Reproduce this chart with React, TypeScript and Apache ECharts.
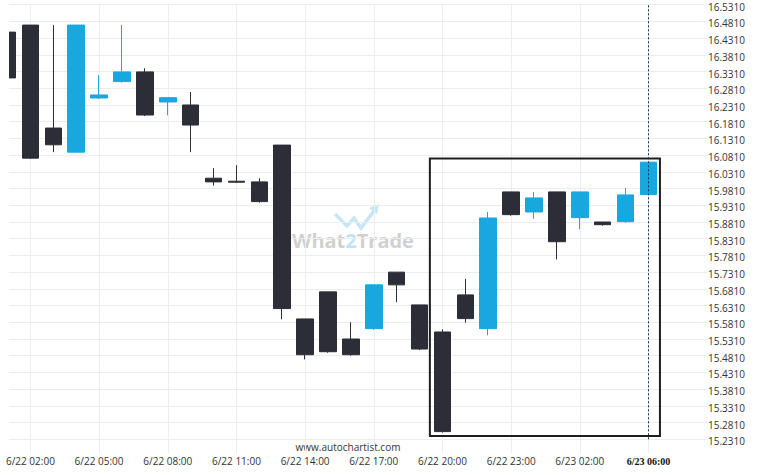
import React, { useEffect, useRef } from 'react';
import * as echarts from 'echarts';

// Hourly candles, 6/22 01:00 .. 6/23 05:00
const times = [
  '6/22 01:00', '6/22 02:00', '6/22 03:00', '6/22 04:00', '6/22 05:00', '6/22 06:00',
  '6/22 07:00', '6/22 08:00', '6/22 09:00', '6/22 10:00', '6/22 11:00', '6/22 12:00',
  '6/22 13:00', '6/22 14:00', '6/22 15:00', '6/22 16:00', '6/22 17:00', '6/22 18:00',
  '6/22 19:00', '6/22 20:00', '6/22 21:00', '6/22 22:00', '6/22 23:00', '6/23 00:00',
  '6/23 01:00', '6/23 02:00', '6/23 03:00', '6/23 04:00', '6/23 05:00',
];
const opens = [
  16.449, 16.470, 16.162, 16.090, 16.252, 16.301, 16.330, 16.240, 16.231, 16.012,
  16.003, 16.001, 16.111, 15.591, 15.672, 15.531, 15.562, 15.731, 15.633, 15.552,
  15.663, 15.562, 15.971, 15.911, 15.971, 15.894, 15.881, 15.882, 15.963,
];
const closes = [
  16.312, 16.072, 16.112, 16.470, 16.261, 16.330, 16.201, 16.253, 16.171, 16.001,
  16.000, 15.942, 15.622, 15.484, 15.493, 15.484, 15.693, 15.693, 15.501, 15.254,
  15.592, 15.893, 15.903, 15.953, 15.822, 15.971, 15.873, 15.962, 16.060,
];
const lows = [
  16.300, 16.070, 16.090, 16.089, 16.249, 16.298, 16.198, 16.200, 16.090, 15.990,
  15.998, 15.939, 15.590, 15.470, 15.490, 15.481, 15.559, 15.641, 15.498, 15.251,
  15.580, 15.542, 15.900, 15.891, 15.769, 15.859, 15.870, 15.879, 15.963,
];
const highs = [
  16.455, 16.470, 16.470, 16.470, 16.320, 16.470, 16.341, 16.253, 16.270, 16.042,
  16.051, 16.012, 16.111, 15.591, 15.672, 15.581, 15.693, 15.731, 15.633, 15.560,
  15.711, 15.911, 15.971, 15.971, 15.971, 15.971, 15.881, 15.983, 16.060,
];
const labelIndices = [1, 4, 7, 10, 13, 16, 19, 22, 25, 28];
const currentTimeLabel = '6/23 06:00';
const patternStart = 19;
const patternEnd = 28;
const yMin = 15.231;
const yMax = 16.531;
const yStep = 0.05;

const BLUE = '#19a7e0';
const DARK = '#2c2d36';
const GRID = '#ededed';

export default function App() {
  const ref = useRef<HTMLDivElement>(null);

  useEffect(() => {
    if (!ref.current) return;
    const chart = echarts.init(ref.current, undefined, { renderer: 'svg' });
    const lastIndex = times.length - 1;
    const data = times.map((_, i) => [i, opens[i], closes[i], lows[i], highs[i]]);
    const pLows = lows.slice(patternStart, patternEnd + 1);
    const pHighs = highs.slice(patternStart, patternEnd + 1);
    const boxTop = Math.max(...pHighs) + 0.011;
    const boxBottom = Math.min(...pLows) - 0.01;

    const option: any = {
      animation: false,
      grid: { left: 9, right: 58, top: 4.7, bottom: 35.7 },
      xAxis: {
        type: 'value',
        min: 0.0655,
        max: 30.337,
        axisLine: { show: false },
        splitLine: { show: true, lineStyle: { color: GRID, width: 1 } },
        axisTick: {
          show: true,
          length: 14,
          customValues: labelIndices,
          lineStyle: { color: GRID, width: 1 },
        },
        axisLabel: {
          customValues: labelIndices,
          margin: 17,
          fontSize: 10,
          fontFamily: 'Open Sans',
          color: '#333',
          formatter: (v: number) => {
            const i = Math.round(v);
            if (i === lastIndex) return '{b|' + currentTimeLabel + '}';
            return times[i];
          },
          rich: {
            b: {
              fontSize: 10,
              fontWeight: 'bold',
              fontFamily: 'Liberation Sans Narrow',
              color: '#111',
            },
          },
        },
      },
      yAxis: {
        type: 'value',
        position: 'right',
        min: yMin,
        max: yMax,
        interval: yStep,
        axisLine: { show: false },
        axisTick: { show: true, length: 5, lineStyle: { color: GRID } },
        splitLine: { show: true, lineStyle: { color: GRID, width: 1 } },
        axisLabel: {
          margin: 6,
          fontSize: 10,
          fontFamily: 'Open Sans',
          color: '#333',
          verticalAlign: 'top',
          lineHeight: 4,
          formatter: (v: number) => v.toFixed(4),
        },
      },
      series: [
        {
          type: 'candlestick',
          data,
          barWidth: 17,
          clip: true,
          itemStyle: {
            color: BLUE,
            color0: DARK,
            borderColor: BLUE,
            borderColor0: DARK,
            borderWidth: 1,
          },
          markLine: {
            silent: true,
            symbol: ['none', 'none'],
            label: { show: false },
            lineStyle: { type: [2, 2], color: '#0f3a4a', width: 1 },
            data: [{ xAxis: lastIndex }],
          },
          markArea: {
            silent: true,
            itemStyle: { color: 'rgba(0,0,0,0)', borderColor: '#1e1e1e', borderWidth: 2 },
            data: [
              [
                { xAxis: patternStart - 0.55, yAxis: boxTop },
                { xAxis: patternEnd + 0.5, yAxis: boxBottom },
              ],
            ],
          },
        },
      ],
      graphic: [
        {
          // clips the partially hidden first candle at the plot's left edge
          type: 'rect',
          z: 100,
          shape: { x: 0, y: 0, width: 9, height: 440 },
          style: { fill: '#ffffff' },
        },
        {
          type: 'polyline',
          z: 0,
          shape: { points: [[335, 214], [347, 226], [354, 218], [361, 228], [374, 211]] },
          style: { stroke: '#c6e6f6', lineWidth: 3.5, fill: null },
        },
        {
          type: 'polygon',
          z: 0,
          shape: { points: [[369, 208], [379, 204], [377, 214]] },
          style: { fill: '#c6e6f6' },
        },
        {
          type: 'text',
          z: 0,
          x: 353,
          y: 240,
          style: {
            text: '{a|What}{c|2}{a|Trade}',
            align: 'center',
            verticalAlign: 'middle',
            rich: {
              a: { fontSize: 20, fontWeight: 'bold', fontFamily: 'Open Sans', fill: '#d0d0d0' },
              c: { fontSize: 20, fontWeight: 'bold', fontFamily: 'Open Sans', fill: '#bfe2f4' },
            },
          },
        },
        {
          type: 'text',
          x: 348,
          y: 447,
          style: {
            text: 'www.autochartist.com',
            align: 'center',
            verticalAlign: 'middle',
            fontSize: 10,
            fontFamily: 'Open Sans',
            fill: '#333',
          },
        },
      ],
    };
    chart.setOption(option);
    return () => chart.dispose();
  }, []);

  return (
    <div
      ref={ref}
      style={{ position: 'fixed', left: 0, top: 0, width: 760, height: 475, background: '#fff' }}
    />
  );
}
